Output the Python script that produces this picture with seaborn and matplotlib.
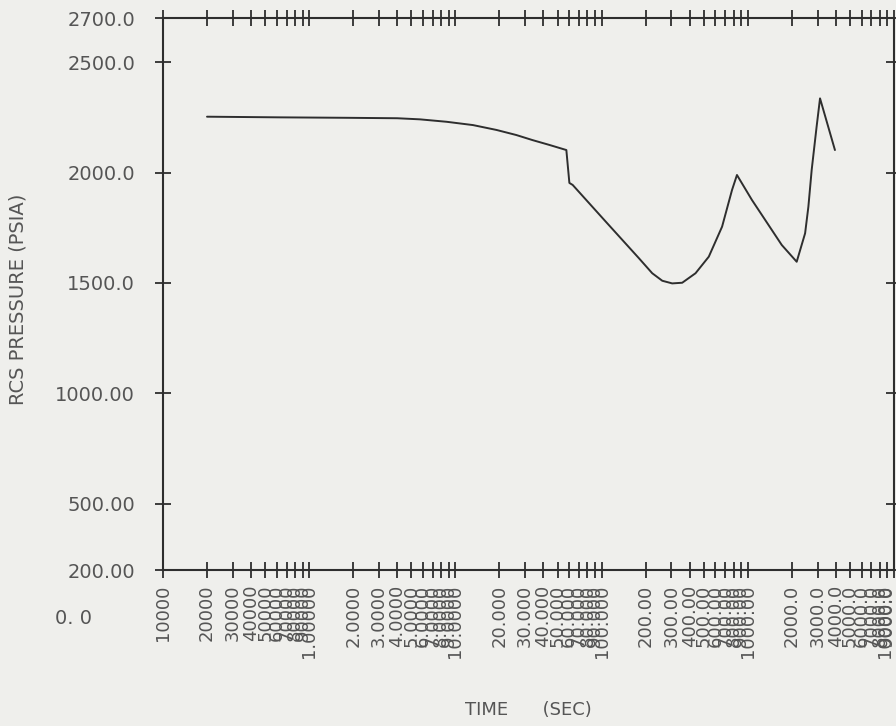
import matplotlib
matplotlib.use("Agg")
import matplotlib.pyplot as plt
import matplotlib.ticker as mticker
import seaborn as sns
import pandas as pd

# ---- data ----
time_s = [0.2, 0.64, 1.81, 4.0, 5.72, 8.7, 13.2, 19.1, 26.1, 33.7, 44.0, 57.4,
          60.2, 63.4, 107.0, 180.0, 222.0, 260.0, 304.0, 356.0, 439.0, 541.0,
          667.0, 780.0, 843.0, 1067.0, 1316.0, 1707.0, 2160.0, 2466.0, 2596.0,
          2735.0, 2956.0, 3119.0, 3945.0]
pressure_psia = [2253, 2250, 2248, 2246, 2241, 2230, 2215, 2193, 2170, 2147, 2125, 2102,
                 1953, 1944, 1777, 1612, 1544, 1510, 1498, 1501, 1544, 1619,
                 1755, 1921, 1989, 1876, 1785, 1672, 1596, 1725, 1845,
                 2012, 2208, 2336, 2102]

y_ticks = [200, 500, 1000, 1500, 2000, 2500, 2700]
y_tick_labels = ["200.00", "500.00", "1000.00", "1500.0", "2000.0", "2500.0", "2700.0"]

decades = [0.1, 1, 10, 100, 1000]
decade_fmt = ["{k}0000", "{k}.0000", "{k}0.000", "{k}00.00", "{k}000.0"]
boundary_labels = {1: "1.00000", 10: "10.0000", 100: "100.000", 1000: "1000.00", 10000: "10000.0"}

x_ticks = []
x_tick_labels = []
for d, fmt in zip(decades, decade_fmt):
    for k in range(1, 10):
        v = k * d
        x_ticks.append(v)
        if k == 1 and d in boundary_labels:
            x_tick_labels.append(boundary_labels[d])
        else:
            x_tick_labels.append(fmt.format(k=k))
x_ticks.append(10000)
x_tick_labels.append(boundary_labels[10000])

df = pd.DataFrame({"TIME": time_s, "P": pressure_psia})

# ---- style ----
sns.set_theme(style="ticks")
plt.rcParams["font.family"] = ["DejaVu Sans"]
bg = "#efefec"
ink = "#2e2e2e"
txt = "#555555"

fig = plt.figure(figsize=(8.96, 7.26), dpi=100, facecolor=bg)
ax = fig.add_axes([163 / 896, 1 - 570 / 726, (894 - 163) / 896, (570 - 18) / 726])
ax.set_facecolor(bg)

sns.lineplot(data=df, x="TIME", y="P", ax=ax, sort=False, estimator=None,
             color=ink, linewidth=1.4)

ax.set_xscale("log")
ax.set_xlim(0.1, 10000)
ax.set_ylim(200, 2700)

ax.xaxis.set_major_locator(mticker.FixedLocator(x_ticks))
ax.xaxis.set_major_formatter(mticker.FixedFormatter(x_tick_labels))
ax.xaxis.set_minor_locator(mticker.NullLocator())
ax.set_yticks(y_ticks)
ax.set_yticklabels(y_tick_labels)

for s in ax.spines.values():
    s.set_color(ink)
    s.set_linewidth(1.5)

ax.tick_params(axis="x", which="major", direction="inout", length=11, width=1.3,
               color=ink, top=True, bottom=True, labelsize=13, labelcolor=txt,
               labelrotation=90, pad=5)
ax.tick_params(axis="y", which="major", direction="inout", length=12, width=1.3,
               color=ink, left=True, right=True, labelsize=14, labelcolor=txt, pad=14)
xlabels = ax.get_xticklabels()
for lab in xlabels:
    lab.set_va("top")
    lab.set_ha("center")
xlabels[-1].set_ha("right")

ax.set_xlabel("TIME      (SEC)", fontsize=13, color=txt)
ax.xaxis.set_label_coords(0.5, -0.238)
ax.set_ylabel("RCS PRESSURE (PSIA)", fontsize=14, color=txt)
ax.yaxis.set_label_coords(-0.185, 0.49)

fig.text(55 / 896, 1 - 618 / 726, "0. 0", fontsize=14, color=txt, ha="left", va="center")

fig.savefig("out.png", dpi=100, facecolor=bg)
